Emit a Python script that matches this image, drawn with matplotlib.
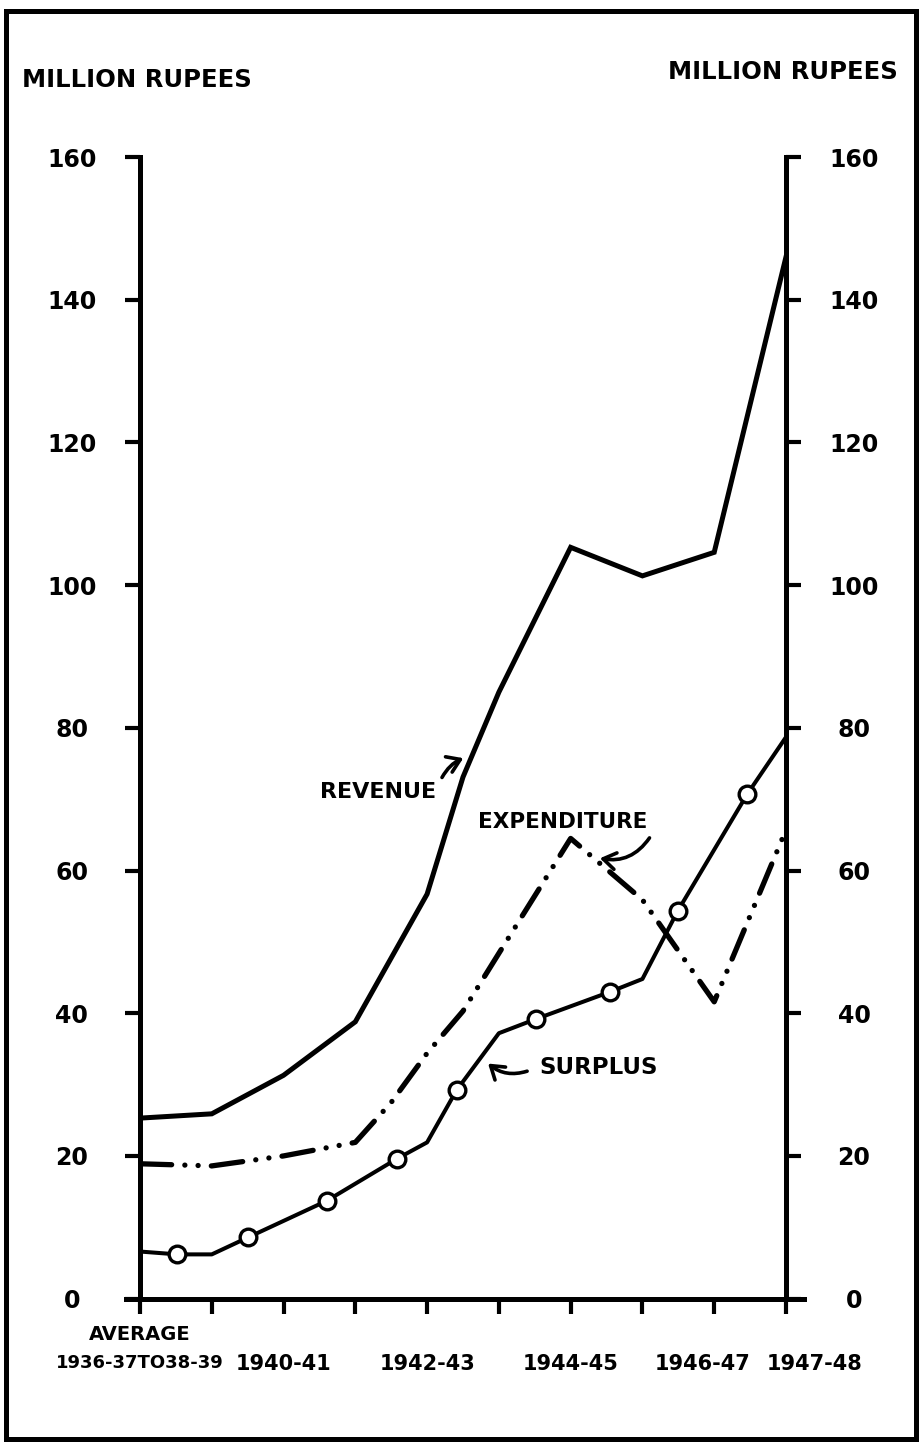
import matplotlib
matplotlib.use("Agg")
import matplotlib.pyplot as plt
from matplotlib.patches import Rectangle
from matplotlib.transforms import ScaledTranslation

# values (million rupees), x = year slot 0..9
revenue_x = [0, 1, 2, 3, 4, 4.5, 5, 6, 7, 8, 9]
revenue = [25.3, 25.9, 31.3, 38.8, 56.7, 73.1, 85.0, 105.3, 101.3, 104.6, 146.0]

expend_x = [0, 1, 2, 3, 3.5, 4, 4.5, 5, 6, 7, 8, 9]
expenditure = [18.9, 18.6, 20.0, 21.9, 27.5, 34.4, 40.3, 48.4, 64.5, 55.9, 41.6, 65.7]

surplus_x = [0, 0.52, 1.0, 1.51, 2.6, 3.58, 4.0, 4.41, 5.0, 5.52, 6.55, 7.0, 7.49, 8.46, 9]
surplus = [6.6, 6.2, 6.2, 8.6, 13.7, 19.6, 21.9, 29.2, 37.2, 39.2, 43.0, 44.8, 54.3, 70.7, 78.7]
surplus_marks = [1, 3, 4, 5, 7, 9, 10, 12, 13]

x_ticks = list(range(10))
x_labels = ["1936-37TO38-39", "", "1940-41", "", "1942-43", "", "1944-45", "", "1946-47", "1947-48"]
y_ticks = [0, 20, 40, 60, 80, 100, 120, 140, 160]

plt.rcParams["font.family"] = ["DejaVu Sans"]
plt.rcParams["font.weight"] = "bold"

fig = plt.figure(figsize=(9.21, 14.45), dpi=100)
ax = fig.add_axes([0.152, 0.1013, 0.7014, 0.79])

ax.plot(revenue_x, revenue, color="black", lw=3.6, solid_joinstyle="miter", zorder=3)
ax.plot(expend_x, expenditure, color="black", lw=3.8,
        linestyle=(0, (6, 2.5, 0.01, 2.5, 0.01, 2.5)), dash_capstyle="round", zorder=3)
ax.plot(surplus_x, surplus, color="black", lw=2.9, marker="o", markevery=surplus_marks,
        markersize=12, markerfacecolor="white", markeredgecolor="black", markeredgewidth=2.4, zorder=4)

ax.set_xlim(0, 9)
ax.set_ylim(0, 160)

for side in ["top", "bottom"]:
    ax.spines[side].set_visible(False)
for side in ["left", "right"]:
    ax.spines[side].set_linewidth(3.6)
ax.axhline(0, xmin=-0.022, xmax=1.028, color="black", lw=3.6, clip_on=False)

ax.set_yticks(y_ticks)
ax.set_yticklabels([str(v) for v in y_ticks])
ax.tick_params(axis="y", which="both", direction="out", length=11, width=3,
               left=True, right=True, labelleft=True, labelright=True, pad=38, labelsize=17)
for t in ax.yaxis.get_major_ticks():
    t.label1.set_horizontalalignment("center")
    t.label2.set_horizontalalignment("center")

ax.set_xticks(x_ticks)
ax.set_xticklabels(x_labels)
ax.tick_params(axis="x", direction="out", length=11, width=3, pad=29, labelsize=15)
xl = ax.get_xticklabels()
xl[0].set_fontsize(13)
xl[8].set_transform(xl[8].get_transform() + ScaledTranslation(-0.12, 0, fig.dpi_scale_trans))
xl[9].set_transform(xl[9].get_transform() + ScaledTranslation(0.29, 0, fig.dpi_scale_trans))

ax.annotate("AVERAGE", xy=(0, 0), xycoords=("data", "axes fraction"), xytext=(0, -26),
            textcoords="offset points", ha="center", va="center", fontsize=14, annotation_clip=False)

fig.text(22 / 921, 1 - 80 / 1445, "MILLION RUPEES", ha="left", va="center", fontsize=17.5)
fig.text(898 / 921, 1 - 72 / 1445, "MILLION RUPEES", ha="right", va="center", fontsize=17.5)

# line labels with curved arrows
arrow = dict(arrowstyle="->,head_length=0.45,head_width=0.3", lw=2.6, color="black", mutation_scale=20)
ax.text(2.51, 71.0, "REVENUE", ha="left", va="center", fontsize=16)
ax.annotate("", xy=(4.54, 75.9), xytext=(4.19, 72.7),
            arrowprops=dict(arrow, connectionstyle="arc3,rad=-0.2"))
ax.text(4.71, 66.8, "EXPENDITURE", ha="left", va="center", fontsize=15.5)
ax.annotate("", xy=(6.37, 61.8), xytext=(7.12, 64.9),
            arrowprops=dict(arrow, connectionstyle="arc3,rad=-0.35"))
ax.text(5.56, 32.4, "SURPLUS", ha="left", va="center", fontsize=16.5)
ax.annotate("", xy=(4.82, 33.2), xytext=(5.43, 32.0),
            arrowprops=dict(arrow, connectionstyle="arc3,rad=-0.3"))

fig.add_artist(Rectangle((6 / 921, 6 / 1445), 910 / 921, 1428 / 1445, fill=False,
                         lw=3.6, edgecolor="black", transform=fig.transFigure))

fig.savefig("out.png", dpi=100, facecolor="white")
